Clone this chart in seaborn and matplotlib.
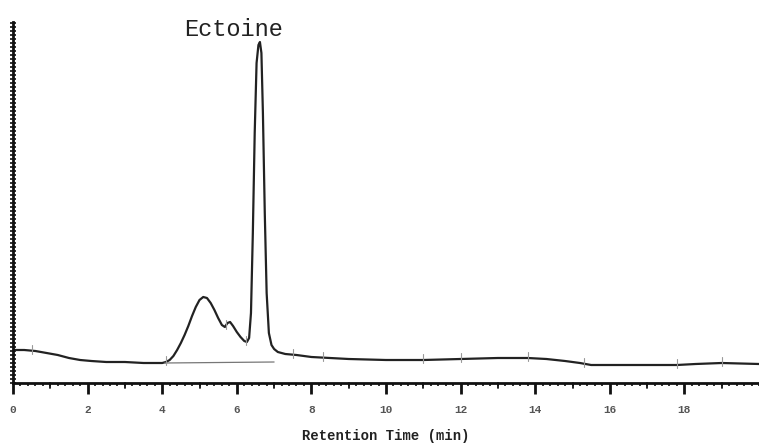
import numpy as np
import pandas as pd
import matplotlib
matplotlib.use("Agg")
import matplotlib.pyplot as plt
from matplotlib.ticker import MultipleLocator
import matplotlib.transforms as mtransforms
import seaborn as sns

# Retention time (min) and detector signal (arbitrary units)
times = [0.0, 0.3, 0.6, 0.9, 1.2, 1.5, 1.8, 2.1, 2.5, 3.0, 3.5, 4.0, 4.1, 4.2,
         4.3, 4.4, 4.5, 4.6, 4.7, 4.8, 4.9, 5.0, 5.1, 5.2, 5.3, 5.4,
         5.5, 5.6, 5.68, 5.75, 5.82, 5.9, 6.0, 6.1, 6.2, 6.27, 6.33, 6.38,
         6.43, 6.48, 6.53, 6.58, 6.62, 6.66, 6.7, 6.75, 6.8, 6.86, 6.93,
         7.0, 7.1, 7.3, 7.6, 8.0, 8.5, 9.0, 10.0, 11.0, 12.0,
         13.0, 13.8, 14.3, 14.8, 15.2, 15.5, 16.0, 17.0, 17.8, 18.3, 19.0, 20.0]
signal = [33, 33, 32, 30, 28, 25, 23, 22, 21, 21, 20, 20, 21, 23,
          27, 33, 40, 48, 57, 67, 76, 83, 86, 85, 80, 73,
          65, 58, 56, 60, 61, 57, 51, 46, 42, 41, 45, 70,
          150, 250, 320, 338, 341, 330, 270, 170, 90, 50, 38,
          34, 31, 29, 28, 26, 25, 24, 23, 23, 24,
          25, 25, 24, 22, 20, 18, 18, 18, 18, 19, 20, 19]

# baseline segment under the peak group
base_t = [4.07, 7.0]
base_y = [20, 21]

# integration event marks
event_t = [0.5, 4.1, 5.7, 6.25, 7.5, 8.3, 11.0, 12.0, 13.8, 15.3, 17.8, 19.0]

peak_name = "Ectoine"
peak_label_t = 5.9
x_label = "Retention Time (min)"
x_ticks = [0, 2, 4, 6, 8, 10, 12, 14, 16, 18]
mid_ticks = [1, 3, 5, 7, 9, 11, 13, 15, 17, 19]

sns.set_style("white")
plt.rcParams['font.family'] = ['Liberation Mono', 'DejaVu Sans']

fig = plt.figure(figsize=(7.59, 4.48), dpi=100)
ax = fig.add_axes([13/759, 65/448, 1 - 13/759, (383-22)/448])

df = pd.DataFrame({"t": times, "s": signal})
sns.lineplot(data=df, x="t", y="s", ax=ax, color="#222222", linewidth=1.6)
ax.plot(base_t, base_y, color="#777777", linewidth=0.9)

sig_interp = np.interp(event_t, times, signal)
for t, s in zip(event_t, sig_interp):
    ax.plot([t, t], [s - 3, s + 6], color="#999999", linewidth=0.8)

ax.text(peak_label_t, 342, peak_name, ha="center", va="bottom",
        fontsize=17, color="#222222")

ax.set_xlim(0, 20)
ax.set_ylim(0, 361)
ax.set_xticks(x_ticks)
ax.set_xticklabels([str(v) for v in x_ticks], fontsize=8, fontweight="bold", color="#555555")
ax.xaxis.set_minor_locator(MultipleLocator(0.2))
ax.tick_params(axis="x", which="major", direction="out", length=8, width=2,
               color="#111111", pad=8, bottom=True)
ax.tick_params(axis="x", which="minor", direction="out", length=2.5, width=1.2,
               color="#111111", bottom=True)
trans = mtransforms.blended_transform_factory(ax.transData, ax.transAxes)
for t in mid_ticks:
    ax.plot([t, t], [0, -0.014], transform=trans, color="#111111",
            linewidth=1.3, clip_on=False)
ax.set_yticks([])
ax.yaxis.set_minor_locator(MultipleLocator(4))
ax.tick_params(axis="y", which="minor", direction="inout", length=4, width=1.2,
               color="#111111", left=True)

ax.set_xlabel(x_label, fontsize=10, fontweight="bold", color="#222222", labelpad=10)
ax.set_ylabel("")

for side in ["top", "right"]:
    ax.spines[side].set_visible(False)
for side in ["left", "bottom"]:
    ax.spines[side].set_linewidth(2)
    ax.spines[side].set_color("#111111")

fig.savefig("out.png", dpi=100)
